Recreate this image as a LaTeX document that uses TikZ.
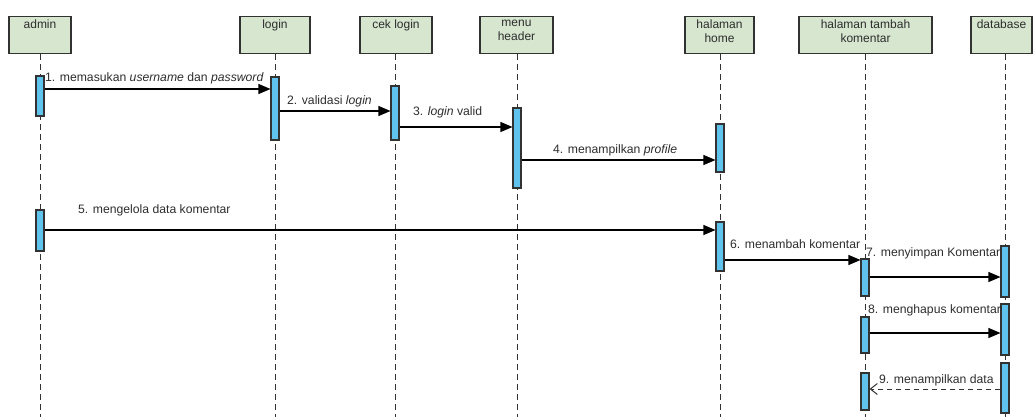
\documentclass[tikz,border=0pt]{standalone}
\usepackage{fontspec}
\setmainfont{Liberation Sans}
\usetikzlibrary{arrows.meta}
\definecolor{hdrfill}{RGB}{214,230,207}
\definecolor{actfill}{RGB}{95,195,238}
\definecolor{edge}{RGB}{50,50,50}
\definecolor{txt}{RGB}{45,45,45}
\begin{document}
\begin{tikzpicture}[x=1pt,y=-1pt,
  hdr/.style={draw=edge,line width=1.3pt,fill=hdrfill,minimum height=37pt,inner sep=0pt,anchor=north},
  hlabel/.style={font=\fontsize{12}{14}\selectfont,text=txt,align=center,anchor=north,inner sep=0pt},
  life/.style={draw=edge,line width=1pt,dash pattern=on 6pt off 4pt},
  act/.style={draw=edge,line width=1.1pt,fill=actfill,minimum width=8pt,inner sep=0pt},
  msg/.style={draw=black,line width=1.1pt,-{Triangle[length=12pt,width=10pt]}},
  ret/.style={draw=edge,line width=1pt,dash pattern=on 5pt off 4pt,-{Straight Barb[length=7pt,width=11pt]}},
  mlabel/.style={font=\fontsize{12.2}{15}\selectfont,text=txt,anchor=west,inner sep=0pt}]
\useasboundingbox (0,0) rectangle (1035,417);
% headers
\node[hdr,minimum width=62pt] (hA) at (40,16) {};
\node[hdr,minimum width=70pt] (hL) at (275,16) {};
\node[hdr,minimum width=72pt] (hC) at (396,16) {};
\node[hdr,minimum width=73pt] (hM) at (516.5,16) {};
\node[hdr,minimum width=69pt] (hH) at (719.5,16) {};
\node[hdr,minimum width=133pt] (hT) at (865.5,16) {};
\node[hdr,minimum width=61pt] (hD) at (1001.5,16) {};
\node[hlabel] (tA) at (40,19.5) {admin};
\node[hlabel] (tL) at (275,19.5) {login};
\node[hlabel] (tC) at (396,19.5) {cek login};
\node[hlabel] (tM) at (516.5,19.5) {menu\\header};
\node[hlabel] (tH) at (719.5,19.5) {halaman\\home};
\node[hlabel] (tT) at (865.5,19.5) {halaman tambah\\komentar};
\node[hlabel] (tD) at (1001.5,19.5) {database};
% lifelines
\coordinate (eA) at (40,417);
\coordinate (eL) at (275,417);
\coordinate (eC) at (395,417);
\coordinate (eM) at (517,417);
\coordinate (eH) at (720,417);
\coordinate (eT) at (865,417);
\coordinate (eD) at (1005,417);
\draw[life] (hA.south -| eA) -- (eA);
\draw[life] (hL.south -| eL) -- (eL);
\draw[life] (hC.south -| eC) -- (eC);
\draw[life] (hM.south -| eM) -- (eM);
\draw[life] (hH.south -| eH) -- (eH);
\draw[life] (hT.south -| eT) -- (eT);
\draw[life] (hD.south -| eD) -- (eD);
% activations
\node[act,minimum height=40pt] (a1) at (40,96) {};
\node[act,minimum height=63pt] (l1) at (275,108.5) {};
\node[act,minimum height=54pt] (c1) at (395,113) {};
\node[act,minimum height=80pt] (m1) at (517,148) {};
\node[act,minimum height=48pt] (h1) at (720,148) {};
\node[act,minimum height=41pt] (a2) at (40,230.5) {};
\node[act,minimum height=49pt] (h2) at (720,246.5) {};
\node[act,minimum height=37pt] (t1) at (865,277.5) {};
\node[act,minimum height=51pt] (d1) at (1005,271.5) {};
\node[act,minimum height=36pt] (t2) at (865,335) {};
\node[act,minimum height=51pt] (d2) at (1005,329.5) {};
\node[act,minimum height=50pt] (d3) at (1005,388) {};
\node[act,minimum height=37pt] (t3) at (865,391.5) {};
% messages
\draw[msg] (a1.east |- 0,89) -- (l1.west |- 0,89);
\draw[msg] (l1.east |- 0,111) -- (c1.west |- 0,111);
\draw[msg] (c1.east |- 0,127) -- (m1.west |- 0,127);
\draw[msg] (m1.east |- 0,160) -- (h1.west |- 0,160);
\draw[msg] (a2.east |- 0,230) -- (h2.west |- 0,230);
\draw[msg] (h2.east |- 0,260) -- (t1.west |- 0,260);
\draw[msg] (t1.east |- 0,277) -- (d1.west |- 0,277);
\draw[msg] (t2.east |- 0,333) -- (d2.west |- 0,333);
\draw[ret] (d3.west |- 0,389) -- (t3.east |- 0,389);
% labels
\node[mlabel] (m1l) at (45,78) {1. memasukan \textit{username} dan \textit{password}};
\node[mlabel] (m2l) at (287,101) {2. validasi \textit{login}};
\node[mlabel] (m3l) at (413,112) {3. \textit{login} valid};
\node[mlabel] (m4l) at (553,150) {4. menampilkan \textit{profile}};
\node[mlabel] (m5l) at (78,210) {5. mengelola data komentar};
\node[mlabel] (m6l) at (730,244) {6. menambah komentar};
\node[mlabel] (m7l) at (866,253) {7. menyimpan Komentar};
\node[mlabel] (m8l) at (868,310) {8. menghapus komentar};
\node[mlabel] (m9l) at (879,380) {9. menampilkan data};
\end{tikzpicture}
\end{document}
